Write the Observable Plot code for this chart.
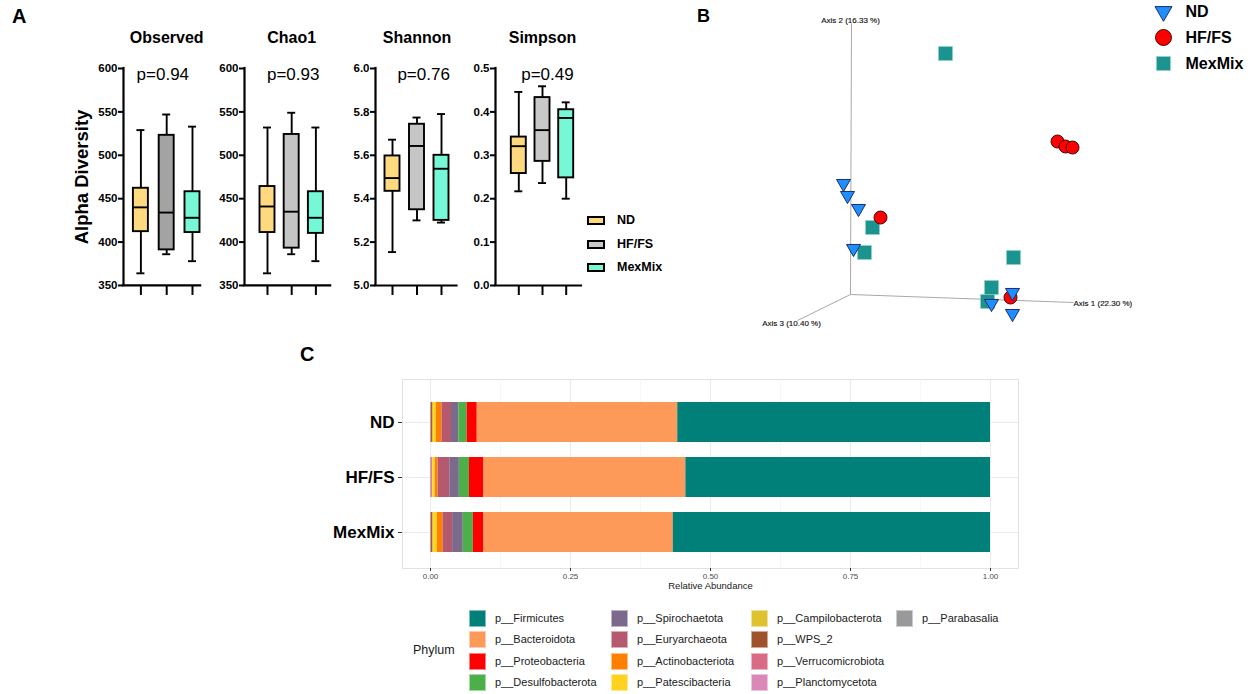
<!DOCTYPE html>
<html><head><meta charset="utf-8">
<script src="https://cdn.jsdelivr.net/npm/d3@7"></script>
<script src="https://cdn.jsdelivr.net/npm/@observablehq/plot@0.6"></script>
<style>
body{margin:0;background:#fff;font-family:"Liberation Sans",Arial,sans-serif;}
#fig{position:relative;width:1248px;height:694px;overflow:hidden;background:#fff;}
.lbl{position:absolute;white-space:nowrap;}
</style></head><body><div id="fig"></div>
<script>
// ================= DATA =================
// Panel A : alpha diversity box plots  [min, q1, median, q3, max]
const groups = ["ND", "HF/FS", "MexMix"];
const metrics = ["Observed", "Chao1", "Shannon", "Simpson"];
const pValues = ["p=0.94", "p=0.93", "p=0.76", "p=0.49"];
const observedND  = [364, 412, 440, 462, 529];
const observedHF  = [386, 391, 434, 523, 547];
const observedMex = [378, 411, 428, 458, 533];
const chao1ND  = [364, 411, 441, 464, 532];
const chao1HF  = [386, 393, 435, 524, 549];
const chao1Mex = [378, 410, 428, 458, 532];
const shannonND  = [5.154, 5.434, 5.495, 5.597, 5.672];
const shannonHF  = [5.300, 5.349, 5.643, 5.743, 5.774];
const shannonMex = [5.290, 5.300, 5.538, 5.600, 5.790];
const simpsonND  = [0.217, 0.258, 0.321, 0.342, 0.446];
const simpsonHF  = [0.236, 0.286, 0.358, 0.433, 0.459];
const simpsonMex = [0.200, 0.248, 0.386, 0.405, 0.422];
const observedTicks = [350, 400, 450, 500, 550, 600];
const chao1Ticks = [350, 400, 450, 500, 550, 600];
const shannonTicks = [5.0, 5.2, 5.4, 5.6, 5.8, 6.0];
const simpsonTicks = [0.0, 0.1, 0.2, 0.3, 0.4, 0.5];

// Panel B : PCoA (projected 3-D coordinates)
const axisNames = ["Axis 1 (22.30 %)", "Axis 2 (16.33 %)", "Axis 3 (10.40 %)"];
const axisEndX = [2.23, 0.01, -0.53];
const axisEndY = [-0.08, 2.71, -0.26];
const pcoaGroup = ["ND","ND","ND","ND","HF/FS","MexMix","MexMix","MexMix","MexMix","MexMix","MexMix","ND","ND","HF/FS","ND","HF/FS","HF/FS","HF/FS"];
const pcoaX = [-0.07, -0.03, 0.08, 0.03, 0.30, 0.22, 0.14, 0.95, 1.63, 1.41, 1.37, 1.41, 1.62, 1.60, 1.62, 2.07, 2.15, 2.22];
const pcoaY = [1.11, 0.99, 0.86, 0.46, 0.77, 0.67, 0.42, 2.41, 0.37, 0.07, -0.07, -0.09, 0.02, -0.03, -0.19, 1.53, 1.48, 1.47];

// Panel C : relative abundance by phylum
const phyla = ["p__Firmicutes","p__Bacteroidota","p__Proteobacteria","p__Desulfobacterota","p__Spirochaetota","p__Euryarchaeota","p__Actinobacteriota","p__Patescibacteria","p__Campilobacterota","p__WPS_2","p__Verrucomicrobiota","p__Planctomycetota","p__Parabasalia"];
const abundND  = [0.5585, 0.358, 0.018, 0.015, 0.013, 0.017, 0.010, 0.005, 0.002, 0.002, 0.0005, 0.0005, 0.0005];
const abundHF  = [0.5440, 0.3605, 0.026, 0.018, 0.017, 0.021, 0.005, 0.004, 0.001, 0.0005, 0.0015, 0.001, 0.0005];
const abundMex = [0.5665, 0.338, 0.019, 0.018, 0.019, 0.017, 0.010, 0.006, 0.003, 0.002, 0.0005, 0.0005, 0.0005];
const xTicksC = [0, 0.25, 0.5, 0.75, 1];

// ================= STYLE / LAYOUT =================
const FONT = '"Liberation Sans", Arial, sans-serif';
const boxStats = [[observedND, observedHF, observedMex],[chao1ND, chao1HF, chao1Mex],[shannonND, shannonHF, shannonMex],[simpsonND, simpsonHF, simpsonMex]];
const yTicks = [observedTicks, chao1Ticks, shannonTicks, simpsonTicks];
const yFormats = [d3.format("d"), d3.format("d"), d3.format(".1f"), d3.format(".1f")];
const boxFills = [["#ffd97f","#a3a3a3","#76f7d6"],["#ffd97f","#c4c4c4","#76f7d6"],["#ffd97f","#c6c6c6","#76f7d6"],["#ffd97f","#c8c8c8","#76f7d6"]];
const aLayout = [
  {axis:123.3, first:140.7, step:25.8, end:200.5, px:0.85},
  {axis:244.3, first:267.3, step:24.2, end:330.5, px:1.06},
  {axis:375.0, first:392.0, step:24.5, end:456.5, px:1.27},
  {axis:495.0, first:518.3, step:23.7, end:581.0, px:1.21}
];
const fig = document.getElementById("fig");
function place(el, left, top){ el.style.position = "absolute"; el.style.left = left + "px"; el.style.top = top + "px"; fig.appendChild(el); return el; }
function label(text, left, top, css){ const d = document.createElement("div"); d.className = "lbl"; d.textContent = text; Object.assign(d.style, css || {}); place(d, left, top); return d; }

// ---------- Panel A ----------
metrics.forEach((m, k) => {
  const L = aLayout[k];
  const dom = [(L.axis - L.first) / L.step, (L.end - L.first) / L.step];
  const w = L.end - L.axis;
  const ML = 42, MT = 60, MB = 16, MR = 4, H = 217;
  const yd = [yTicks[k][0], yTicks[k][yTicks[k].length - 1]];
  const rows = groups.map((g, i) => ({g, i, s: boxStats[k][i], fill: boxFills[k][i]}));
  const hw = 7.5 / L.step, cw = 4 / L.step;
  const sw = 1.9;
  const p = Plot.plot({
    width: ML + w + MR, height: MT + H + MB,
    marginLeft: ML, marginRight: MR, marginTop: MT, marginBottom: MB,
    x: {domain: dom, axis: null},
    y: {domain: yd, axis: null},
    style: {fontFamily: FONT, background: "transparent", overflow: "visible"},
    marks: [
      Plot.ruleX(rows, {x: "i", y1: d => d.s[0], y2: d => d.s[4], strokeWidth: sw, stroke: "black"}),
      Plot.ruleY(rows, {y: d => d.s[0], x1: d => d.i - cw, x2: d => d.i + cw, strokeWidth: sw, stroke: "black"}),
      Plot.ruleY(rows, {y: d => d.s[4], x1: d => d.i - cw, x2: d => d.i + cw, strokeWidth: sw, stroke: "black"}),
      Plot.rect(rows, {x1: d => d.i - hw, x2: d => d.i + hw, y1: d => d.s[1], y2: d => d.s[3], fill: "fill", stroke: "black", strokeWidth: sw}),
      Plot.ruleY(rows, {y: d => d.s[2], x1: d => d.i - hw, x2: d => d.i + hw, strokeWidth: sw, stroke: "black"}),
      Plot.ruleX([dom[0]], {strokeWidth: 2.2, stroke: "black", strokeLinecap: "square"}),
      Plot.ruleY([yd[0]], {strokeWidth: 2.2, stroke: "black", strokeLinecap: "square"}),
      Plot.axisY(yTicks[k], {tickSize: 5, strokeWidth: 2, tickFormat: () => "", label: null, stroke: "black"}),
      Plot.text(yTicks[k], {x: dom[0], y: d => d, text: d => yFormats[k](d), textAnchor: "end", dx: -6, fontSize: 11.5, fontWeight: "bold", fill: "black"}),
      Plot.axisX([0, 1, 2], {tickSize: 10, strokeWidth: 2, tickFormat: () => "", label: null, stroke: "black"}),
      Plot.text([m], {x: 1, frameAnchor: "top", dy: -37, fontSize: 16, fontWeight: "bold", fill: "black"}),
      Plot.text([pValues[k]], {x: L.px, frameAnchor: "top", dy: -1, fontSize: 17, fill: "black"})
    ]
  });
  place(p, L.axis - ML, 68 - MT);
});
label("A", 12, 6, {fontSize: "20px", fontWeight: "bold", lineHeight: "20px"});
label("Alpha Diversity", -18, 166, {width: "200px", textAlign: "center", lineHeight: "22px", fontSize: "18.5px", fontWeight: "bold", transform: "rotate(-90deg)", transformOrigin: "100px 11px"});
// legend A
const legAFill = ["#ffd97f", "#c8c8c8", "#76f7d6"];
const legAY = [220, 244, 267];
groups.forEach((g, i) => {
  label("", 587, legAY[i] - 4.5, {width: "18px", height: "9px", boxSizing: "border-box", border: "2px solid #000", background: legAFill[i]});
  label(g, 617, legAY[i] - 8, {fontSize: "12.5px", fontWeight: "bold", lineHeight: "16px"});
});

// ---------- Panel B ----------
const triangleDown = {draw(ctx, size){ const y = Math.sqrt(size / (3 * Math.sqrt(3))); ctx.moveTo(0, 2 * y); ctx.lineTo(Math.sqrt(3) * y, -y); ctx.lineTo(-Math.sqrt(3) * y, -y); ctx.closePath(); }};
const gSymbol = {"ND": triangleDown, "HF/FS": "circle", "MexMix": "square"};
const gFill = {"ND": "#1e8fff", "HF/FS": "#ff0000", "MexMix": "#1b938f"};
const gStroke = {"ND": "#1b2d6b", "HF/FS": "#4a0808", "MexMix": "#8fd0cc"};
const gR = {"ND": 5.2, "HF/FS": 6.5, "MexMix": 7.9};
const gRLeg = {"ND": 6.3, "HF/FS": 8, "MexMix": 7.9};
const gSW = {"ND": 1, "HF/FS": 1, "MexMix": 0.6};
const pcoa = pcoaGroup.map((g, i) => ({g, x: pcoaX[i], y: pcoaY[i]}));
const axes3 = axisNames.map((n, i) => ({n, x: axisEndX[i], y: axisEndY[i]}));
const axisLabelAnchor = ["start", "middle", "middle"];
const axisLabelDX = [0, -1, -6];
const axisLabelDY = [1, -3, 3];
const pB = Plot.plot({
  width: 548, height: 335, margin: 0,
  x: {domain: [-1.5, 3.98], axis: null},
  y: {domain: [-0.41, 2.94], axis: null},
  r: {type: "identity"},
  style: {fontFamily: FONT, background: "transparent", overflow: "visible"},
  marks: [
    Plot.link(axes3, {x1: 0, y1: 0, x2: "x", y2: "y", stroke: "#a8a8a8", strokeWidth: 1}),
    ...axes3.map((a, i) => Plot.text([a], {x: "x", y: "y", text: "n", textAnchor: axisLabelAnchor[i], dx: axisLabelDX[i], dy: axisLabelDY[i], fontSize: 8, fill: "#111", stroke: "#111", strokeWidth: 0.15})),
    Plot.dot(pcoa, {x: "x", y: "y", symbol: d => gSymbol[d.g], fill: d => gFill[d.g], stroke: d => gStroke[d.g], r: d => gR[d.g], strokeWidth: d => gSW[d.g]})
  ]
});
place(pB, 700, 0);
label("B", 697, 6, {fontSize: "18px", fontWeight: "bold", lineHeight: "20px"});
const legB = Plot.plot({
  width: 98, height: 80, marginTop: 10, marginBottom: 17, marginLeft: 0, marginRight: 0,
  y: {type: "point", domain: groups, axis: null, padding: 0},
  r: {type: "identity"},
  style: {fontFamily: FONT, background: "transparent", overflow: "visible"},
  marks: [
    Plot.dot(groups, {y: d => d, frameAnchor: "left", dx: 13, symbol: d => gSymbol[d], fill: d => gFill[d], stroke: d => gStroke[d], r: d => gRLeg[d], strokeWidth: 1}),
    Plot.text(groups, {y: d => d, frameAnchor: "left", dx: 35, text: d => d, textAnchor: "start", fontSize: 16, fontWeight: "bold", fill: "black"})
  ]
});
place(legB, 1150, 0);

// ---------- Panel C ----------
const phylumColors = ["#008078","#fd9a5a","#ff0000","#4daf4a","#7b6a8c","#b55a6e","#ff7f00","#ffd21f","#dfc22e","#a0522d","#d86b85","#d988b8","#999999"];
const abund = [abundND, abundHF, abundMex];
const barRows = [];
phyla.slice().reverse().forEach(p => {
  const j = phyla.indexOf(p);
  groups.forEach((g, gi) => barRows.push({group: g, phylum: p, value: abund[gi][j], color: phylumColors[j]}));
});
const pC = Plot.plot({
  width: 730, height: 228, marginLeft: 102, marginRight: 12, marginTop: 9, marginBottom: 30,
  x: {domain: [-0.05, 1.05], axis: null},
  y: {domain: groups, axis: null, paddingInner: 0.28, paddingOuter: 0.358, align: 0.58},
  style: {fontFamily: FONT, background: "transparent", overflow: "visible"},
  marks: [
    Plot.gridX([0.125, 0.375, 0.625, 0.875], {stroke: "#f3f3f3", strokeOpacity: 1, strokeWidth: 0.7}),
    Plot.gridX(xTicksC, {stroke: "#ebebeb", strokeOpacity: 1, strokeWidth: 1.1}),
    Plot.gridY({stroke: "#ebebeb", strokeOpacity: 1, strokeWidth: 1.1}),
    Plot.frame({stroke: "#e2e2e2"}),
    Plot.barX(barRows, {y: "group", x: "value", fill: "color", order: null}),
    Plot.axisY({tickSize: 4, tickPadding: 4, fontSize: 17, fontWeight: "bold", fill: "black", stroke: "#333", label: null}),
    Plot.axisX(xTicksC, {tickSize: 3, tickPadding: 2, fontSize: 8, tickFormat: d3.format(".2f"), fill: "#4d4d4d", stroke: "#333", label: null}),
    Plot.text(["Relative Abundance"], {frameAnchor: "bottom", dy: 20, fontSize: 9.5, fill: "#222"})
  ]
});
place(pC, 300, 370);
label("C", 300, 344, {fontSize: "20px", fontWeight: "bold", lineHeight: "20px"});
// legend C
const legColX = [469, 611, 751, 896];
const legRowY = [618, 639, 661, 682];
label("Phylum", 413, 642, {fontSize: "12.5px", lineHeight: "16px", color: "#1a1a1a"});
phyla.forEach((p, j) => {
  const c = Math.floor(j / 4), r = j % 4;
  label("", legColX[c], legRowY[r] - 8.5, {width: "17px", height: "17px", background: phylumColors[j], boxSizing: "border-box", border: "1px solid rgba(255,255,255,0.5)"});
  label(p, legColX[c] + 26, legRowY[r] - 7, {fontSize: "11px", lineHeight: "14px", color: "#1a1a1a"});
});
</script></body></html>
